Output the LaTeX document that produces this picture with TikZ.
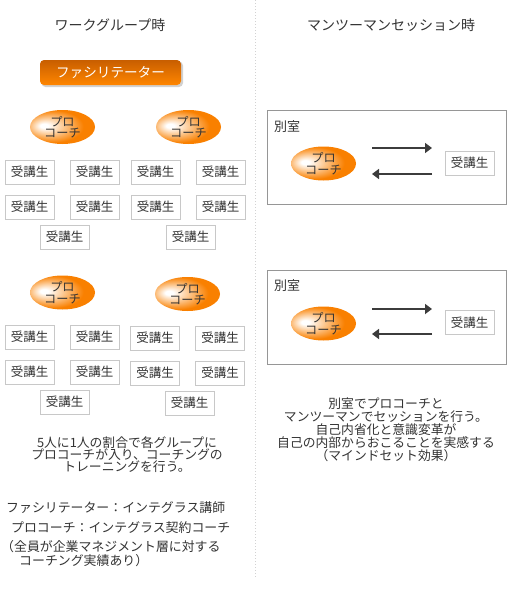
\documentclass[tikz,border=0pt]{standalone}
\usepackage{fontspec}
\setmainfont{Noto Sans CJK JP}
\usepackage{tikz}
\usetikzlibrary{arrows.meta,shapes.geometric}

\definecolor{txt}{RGB}{51,51,51}
\definecolor{proorange}{RGB}{249,128,0}
\definecolor{btntop}{RGB}{200,94,0}
\definecolor{btnbot}{RGB}{255,134,0}
\definecolor{boxline}{RGB}{200,200,200}
\definecolor{roomline}{RGB}{150,150,150}
\definecolor{arrowgray}{RGB}{60,60,60}
\definecolor{sepgray}{RGB}{210,210,210}

\pgfdeclareradialshading{prohl}{\pgfpoint{-15bp}{2bp}}{color(0bp)=(white); color(3bp)=(white); color(24bp)=(proorange); color(50bp)=(proorange)}

\tikzset{
  heading/.style={text=txt, inner sep=0, font=\fontsize{14}{16}\selectfont},
  facilbtn/.style={rounded corners=4, top color=btntop, bottom color=btnbot, text=white,
    minimum width=141, minimum height=25, inner sep=0, font=\fontsize{13.6}{16}\selectfont},
  pro/.style={ellipse, shading=prohl, minimum width=65, minimum height=34, inner sep=0,
    align=center, text=txt, font=\fontsize{12.2}{11.6}\selectfont},
  student/.style={draw=boxline, fill=white, minimum width=49, minimum height=24, inner sep=0,
    text=txt, font=\fontsize{12.5}{14}\selectfont},
  room/.style={draw=roomline, minimum width=239, minimum height=94, inner sep=0},
  roomlabel/.style={anchor=west, inner sep=0, text=txt, font=\fontsize{13}{15}\selectfont},
  note/.style={inner sep=0, text=txt, align=center, font=\fontsize{12.8}{12.4}\selectfont},
  noteline/.style={anchor=base west, inner sep=0, text=txt, font=\fontsize{12.9}{11}\selectfont},
  talk/.style={draw=arrowgray, line width=2, -{Triangle[length=7,width=10]}},
}

\begin{document}
\begin{tikzpicture}[x=1pt,y=-1pt]
    \useasboundingbox (0,0) rectangle (510,600);

    %Straight Lines: divider
    \draw [sepgray, line width=1, dash pattern=on 1pt off 2pt] (255,0) -- (255,577);

    % Headings
    \node [heading] (worktitle) at (110,25) {ワークグループ時};
    \node [heading] (mantitle) at (391,25) {マンツーマンセッション時};

    %Shape: Button (facilitator)
    \fill [black!18, rounded corners=4] (41.5,61.5) rectangle (183,87);
    \node [facilbtn] (facil) at (110.5,72.5) {ファシリテーター};

    %Shape: Ellipse (group 1)
    \node [pro] (pro1) at (62.5,127) {プロ\\コーチ};
    \node [pro] (pro2) at (188.5,127) {プロ\\コーチ};
    %Shape: Ellipse (group 2)
    \node [pro] (pro3) at (62.5,292.5) {プロ\\コーチ};
    \node [pro] (pro4) at (187.5,294) {プロ\\コーチ};

    % Text Node: students, upper groups
    \node [student] (s1a) at (29.5,172) {受講生};
    \node [student] (s1b) at (94.5,172) {受講生};
    \node [student] (s1c) at (29.5,207) {受講生};
    \node [student] (s1d) at (94.5,207) {受講生};
    \node [student] (s1e) at (64.5,237) {受講生};
    \node [student] (s2a) at (155.5,172) {受講生};
    \node [student] (s2b) at (220.5,172) {受講生};
    \node [student] (s2c) at (155.5,207) {受講生};
    \node [student] (s2d) at (220.5,207) {受講生};
    \node [student] (s2e) at (190.5,237) {受講生};
    % Text Node: students, lower groups
    \node [student] (s3a) at (29.5,337) {受講生};
    \node [student] (s3b) at (94.5,337) {受講生};
    \node [student] (s3c) at (29.5,372) {受講生};
    \node [student] (s3d) at (94.5,372) {受講生};
    \node [student] (s3e) at (64.5,402) {受講生};
    \node [student] (s4a) at (155,338) {受講生};
    \node [student] (s4b) at (220,338) {受講生};
    \node [student] (s4c) at (155,373) {受講生};
    \node [student] (s4d) at (220,373) {受講生};
    \node [student] (s4e) at (189.5,403) {受講生};

    % Text Node: left notes
    \node [note] (ratio) at (127,454.5) {5人に1人の割合で各グループに\\プロコーチが入り、コーチングの\\トレーニングを行う。};
    \node [noteline] (facilnote) at (6,512) {ファシリテーター：インテグラス講師};
    \node [noteline] (pronote) at (11,532) {プロコーチ：インテグラス契約コーチ};
    \node [noteline, anchor=west, align=left] (recnote) at (1,553.5) {（全員が企業マネジメント層に対する\\\hspace*{18pt}コーチング実績あり）};

    %Shape: Rectangle (room 1)
    \node [room] (room1) at (386.5,157) {};
    \node [roomlabel] (room1lbl) at (274,127) {別室};
    \node [pro] (pro5) at (323.5,163.5) {プロ\\コーチ};
    \node [student] (s5) at (469.5,163) {受講生};
    \coordinate (go1) at (372,148);
    \coordinate (to1) at (432,148);
    \coordinate (back1) at (432,174);
    \coordinate (ret1) at (372,174);
    \draw [talk] (go1) -- (to1);
    \draw [talk] (back1) -- (ret1);

    %Shape: Rectangle (room 2)
    \node [room] (room2) at (386.5,317.5) {};
    \node [roomlabel] (room2lbl) at (274,286) {別室};
    \node [pro] (pro6) at (323.5,323.5) {プロ\\コーチ};
    \node [student] (s6) at (469.5,322.5) {受講生};
    \coordinate (go2) at (372,309);
    \coordinate (to2) at (432,309);
    \coordinate (back2) at (432,334);
    \coordinate (ret2) at (372,334);
    \draw [talk] (go2) -- (to2);
    \draw [talk] (back2) -- (ret2);

    % Text Node: right note
    \node [note, font=\fontsize{12.8}{11.6}\selectfont] (effect) at (386,430) {別室でプロコーチと\\マンツーマンでセッションを行う。\\自己内省化と意識変革が\\自己の内部からおこることを実感する\\（マインドセット効果）};

\end{tikzpicture}
\end{document}
